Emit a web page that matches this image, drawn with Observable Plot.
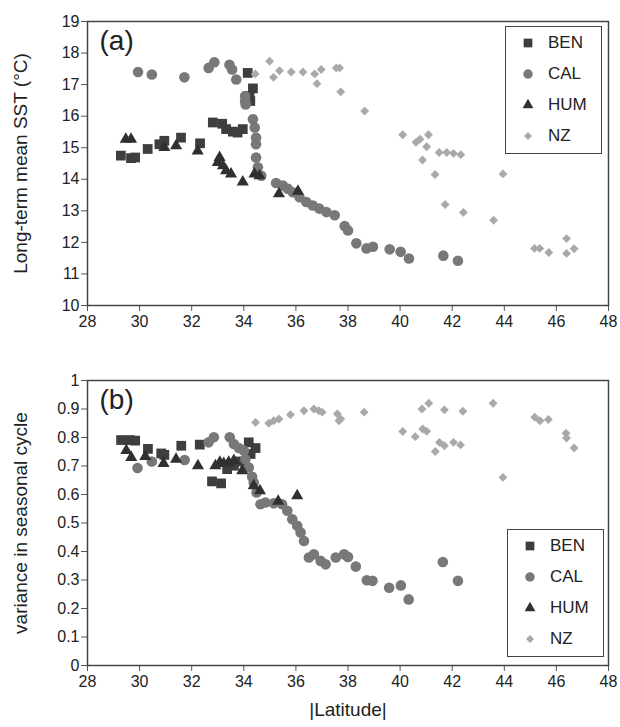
<!DOCTYPE html>
<html>
<head>
<meta charset="utf-8">
<script src="https://cdn.jsdelivr.net/npm/d3@7"></script>
<script src="https://cdn.jsdelivr.net/npm/@observablehq/plot@0.6"></script>
<style>
  html, body { margin: 0; padding: 0; background: #fff; }
  #wrap { width: 620px; font-family: "Liberation Sans", Arial, Helvetica, sans-serif; }
  .panel { position: relative; width: 620px; }
  .panel svg { display: block; }
  .legend { position: absolute; box-sizing: border-box; border: 1.5px solid #444; background: #fff; }
  .legend .row { position: absolute; left: 0; height: 20px; width: 100%; }
  .legend .row svg { position: absolute; left: 12px; top: 0; }
  .legend .row span { position: absolute; left: 42px; top: 0px; font-size: 17px; line-height: 20px; color: #222; }
</style>
</head>
<body>
<div id="wrap">
  <div class="panel" id="pa"></div>
  <div class="panel" id="pb"></div>
</div>
<script>
// ---- Data: [|latitude|, value] ----
const seriesNames = ["BEN", "CAL", "HUM", "NZ"];

// Panel (a): long-term mean SST (°C)
const BEN_A = [[29.28,14.75],[29.67,14.67],[29.83,14.69],[30.31,14.96],[30.76,15.11],[30.95,15.22],[31.59,15.32],[32.32,15.14],[32.81,15.80],[33.17,15.76],[33.32,15.59],[33.58,15.51],[33.76,15.48],[33.96,15.59],[34.15,17.37],[34.35,16.88],[34.22,16.64],[34.25,16.48]];
const CAL_A = [[29.94,17.40],[30.47,17.32],[31.72,17.23],[32.65,17.53],[32.87,17.71],[33.45,17.63],[33.55,17.48],[33.71,17.16],[34.05,16.64],[34.05,16.48],[34.07,16.37],[34.35,15.90],[34.42,15.64],[34.47,15.32],[34.47,15.11],[34.47,14.69],[34.54,14.38],[34.67,14.11],[35.24,13.88],[35.50,13.80],[35.69,13.70],[35.88,13.59],[36.14,13.43],[36.40,13.28],[36.65,13.17],[36.90,13.07],[37.17,12.96],[37.49,12.86],[37.87,12.52],[38.00,12.38],[38.32,11.97],[38.71,11.81],[38.96,11.86],[39.60,11.78],[40.02,11.70],[40.34,11.49],[41.66,11.58],[42.22,11.42]];
const HUM_A = [[29.47,15.27],[29.67,15.27],[30.95,15.01],[31.40,15.06],[32.23,14.90],[33.07,14.69],[33.00,14.53],[33.20,14.43],[33.32,14.27],[33.51,14.17],[33.96,13.91],[34.41,14.17],[34.60,14.11],[35.35,13.54],[36.08,13.62]];
const NZ_A = [[34.99,17.74],[34.44,17.34],[35.14,17.23],[35.37,17.44],[35.82,17.40],[36.27,17.40],[36.72,17.34],[36.81,17.03],[36.97,17.48],[37.55,17.53],[37.68,17.53],[37.72,16.77],[38.64,16.16],[40.10,15.41],[40.61,15.17],[40.76,15.27],[41.09,15.41],[41.02,15.03],[40.86,14.61],[41.50,14.85],[41.79,14.85],[42.05,14.82],[42.33,14.78],[41.34,14.15],[43.95,14.17],[41.73,13.20],[42.43,12.95],[43.59,12.70],[45.16,11.81],[45.36,11.81],[45.71,11.68],[46.39,12.12],[46.39,11.65],[46.68,11.80]];

// Panel (b): variance in seasonal cycle
const BEN_B = [[29.29,0.791],[29.62,0.791],[29.83,0.789],[30.32,0.760],[30.83,0.744],[30.95,0.739],[31.60,0.771],[32.31,0.775],[32.78,0.646],[33.13,0.639],[33.36,0.689],[33.62,0.701],[33.87,0.716],[34.19,0.783],[34.45,0.763],[34.26,0.742]];
const CAL_B = [[29.92,0.693],[30.47,0.716],[31.73,0.721],[32.65,0.783],[32.85,0.801],[33.46,0.801],[33.62,0.777],[33.81,0.763],[34.00,0.754],[34.06,0.724],[34.19,0.695],[34.32,0.662],[34.38,0.642],[34.49,0.607],[34.64,0.566],[34.83,0.572],[35.15,0.569],[35.47,0.566],[35.67,0.543],[35.86,0.513],[36.05,0.490],[36.18,0.467],[36.31,0.437],[36.50,0.379],[36.69,0.390],[36.95,0.367],[37.14,0.355],[37.53,0.379],[37.85,0.390],[38.00,0.381],[38.30,0.347],[38.72,0.299],[38.94,0.297],[39.58,0.273],[40.03,0.281],[40.33,0.232],[41.64,0.363],[42.22,0.297]];
const HUM_B = [[29.49,0.754],[29.68,0.730],[30.22,0.733],[30.92,0.709],[31.40,0.724],[32.24,0.701],[32.91,0.701],[33.08,0.713],[33.23,0.709],[33.42,0.713],[33.62,0.719],[33.94,0.683],[34.38,0.631],[34.62,0.613],[35.32,0.576],[36.05,0.596]];
const NZ_B = [[34.45,0.853],[34.96,0.850],[35.15,0.859],[35.35,0.865],[35.79,0.880],[36.31,0.894],[36.69,0.900],[36.88,0.894],[37.01,0.889],[37.59,0.883],[37.72,0.865],[37.65,0.859],[38.62,0.889],[40.10,0.821],[40.58,0.803],[40.84,0.900],[41.10,0.920],[40.87,0.830],[41.02,0.822],[41.35,0.751],[41.51,0.783],[41.70,0.771],[41.70,0.897],[42.05,0.783],[42.32,0.774],[42.41,0.892],[43.57,0.920],[43.95,0.660],[45.17,0.871],[45.37,0.859],[45.69,0.863],[46.37,0.815],[46.39,0.798],[46.68,0.763]];

// Tick values
const xTicks = [28, 30, 32, 34, 36, 38, 40, 42, 44, 46, 48];
const yTicksA = [10, 11, 12, 13, 14, 15, 16, 17, 18, 19];
const yTicksB = [0, 0.1, 0.2, 0.3, 0.4, 0.5, 0.6, 0.7, 0.8, 0.9, 1];

// ---- Styles ----
const styleOf = {
  BEN: {symbol: "square",   fill: "#3e3e3e", r: 5.5},
  CAL: {symbol: "circle",   fill: "#787878", r: 5.3},
  HUM: {symbol: "triangle", fill: "#303030", r: 4.5},
  NZ:  {symbol: "diamond2", fill: "#a9a9a9", r: 4.0}
};

const FONT = '"Liberation Sans", Arial, Helvetica, sans-serif';

function dots(data, name) {
  const s = styleOf[name];
  return Plot.dot(data, {x: d => d[0], y: d => d[1], symbol: () => s.symbol, fill: s.fill, r: s.r, stroke: "none"});
}

function panel({height, marginTop, marginBottom, yDomain, yTicks, yFormat, yLabel, xLabel, tag, series}) {
  return Plot.plot({
    width: 620,
    height,
    marginLeft: 87,
    marginRight: 12,
    marginTop,
    marginBottom,
    style: {fontFamily: FONT, fontSize: "16px", color: "#222", background: "#fff", overflow: "visible"},
    symbol: {type: "identity"},
    x: {domain: [28, 48]},
    y: {domain: yDomain},
    marks: [
      Plot.axisX({ticks: xTicks, tickSize: 6, tickPadding: 4, stroke: "#555", label: xLabel, labelAnchor: "center", labelArrow: "none", labelOffset: 50, fontSize: 16}),
      Plot.axisY({ticks: yTicks, tickSize: 6, tickPadding: 2, stroke: "#555", tickFormat: yFormat, label: yLabel, labelAnchor: "center", labelArrow: "none", labelOffset: 74, fontSize: 16}),
      ...series.map(([data, name]) => dots(data, name)),
      Plot.frame({stroke: "#444", strokeWidth: 1.5}),
      Plot.text([tag], {frameAnchor: "top-left", dx: 12, dy: 9, fontSize: 28, textAnchor: "start", lineAnchor: "top", fill: "#222"})
    ]
  });
}

const chartA = panel({
  height: 340, marginTop: 21, marginBottom: 35,
  yDomain: [10, 19], yTicks: yTicksA, yFormat: d => String(d),
  yLabel: "Long-term mean SST (°C)", xLabel: null, tag: "(a)",
  series: [[BEN_A, "BEN"], [CAL_A, "CAL"], [HUM_A, "HUM"], [NZ_A, "NZ"]]
});
const chartB = panel({
  height: 387, marginTop: 40, marginBottom: 62,
  yDomain: [0, 1], yTicks: yTicksB, yFormat: d => String(d),
  yLabel: "variance in seasonal cycle", xLabel: "|Latitude|", tag: "(b)",
  series: [[BEN_B, "BEN"], [CAL_B, "CAL"], [HUM_B, "HUM"], [NZ_B, "NZ"]]
});

document.getElementById("pa").appendChild(chartA);
document.getElementById("pb").appendChild(chartB);

// larger axis titles
d3.select(chartB).selectAll("text").filter(function() { return this.textContent === "|Latitude|"; }).attr("font-size", 19);
d3.selectAll("svg text").filter(function() { return this.textContent === "Long-term mean SST (°C)" || this.textContent === "variance in seasonal cycle"; }).attr("font-size", 19);

// ---- Legends ----
function legend(container, left, top) {
  const box = document.createElement("div");
  box.className = "legend";
  Object.assign(box.style, {left: left + "px", top: top + "px", width: "97px", height: "128px"});
  seriesNames.forEach((name, i) => {
    const s = styleOf[name];
    const row = document.createElement("div");
    row.className = "row";
    row.style.top = (6 + i * 31) + "px";
    const svg = d3.create("svg").attr("width", 20).attr("height", 20);
    const sym = {square: d3.symbolSquare, circle: d3.symbolCircle, triangle: d3.symbolTriangle, diamond2: d3.symbolDiamond2}[s.symbol];
    svg.append("path").attr("transform", "translate(10,10)")
      .attr("d", d3.symbol(sym, Math.PI * s.r * s.r * 0.8)())
      .attr("fill", s.fill);
    row.appendChild(svg.node());
    const t = document.createElement("span");
    t.textContent = name;
    row.appendChild(t);
    box.appendChild(row);
  });
  container.appendChild(box);
}
legend(document.getElementById("pa"), 505, 26);
legend(document.getElementById("pb"), 507, 189);
</script>
</body>
</html>
